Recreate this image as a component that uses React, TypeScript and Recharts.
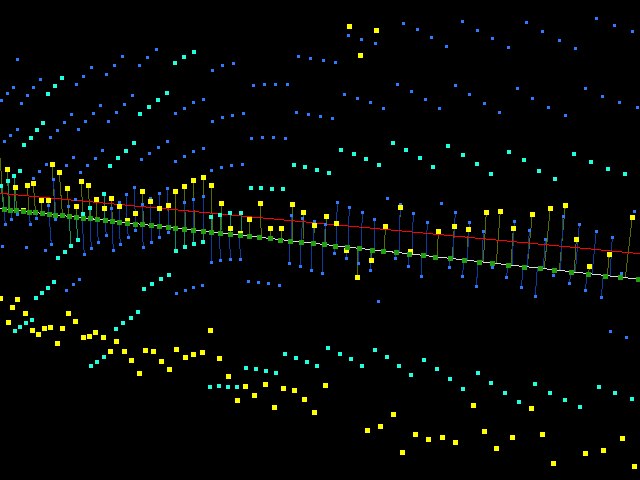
import React from 'react'
import { ComposedChart, Line, Scatter, XAxis, YAxis } from 'recharts'

// everything in screen units: [x, y] or [x, y, baseX, baseY]
const yellowStems = [
  [0, 158, 4, 209], [7.3, 169.3, 9, 209.7], [15.3, 187.3, 16.5, 210.5], [27.3, 185.3, 29, 211.9],
  [33.3, 183.3, 35.5, 212.6], [41.3, 200.3, 42, 213.3], [48.3, 200.3, 49, 214.1], [52.3, 164.3, 55, 214.8],
  [59.3, 172.3, 62.5, 215.6], [67.3, 188.3, 69, 216.3], [76.3, 206.3, 76, 217.1], [81.3, 181.3, 83, 217.9],
  [88.3, 185.3, 90, 218.6], [96.3, 199.3, 97, 219.4], [104.3, 208.3, 105, 220.3], [111.3, 198.3, 112.5, 221.1],
  [119.3, 206.3, 119.5, 221.9], [135.3, 213.3, 135, 223.6], [142.3, 191.3, 143.5, 224.5], [150.3, 201.3, 151, 225.4],
  [159.3, 208.3, 159.5, 226.3], [168.3, 205.3, 168.5, 227.3], [175.3, 191.3, 176, 228.1], [184.3, 186.3, 185.5, 229.2],
  [193.3, 180.3, 194.5, 230.2], [203.3, 177.3, 203.5, 231.1], [211.3, 185.3, 212.5, 232.1], [221.3, 203.3, 221, 233.1],
  [230.3, 228.3, 230.3, 234.1], [249.3, 219.3, 249.3, 236.2], [260.3, 203.3, 261.3, 237.5], [270.3, 228.3, 271, 238.6],
  [281.3, 228.3, 281, 239.7], [292.3, 204.3, 292.3, 240.9], [303.3, 212.3, 303, 242.1], [314.3, 225.3, 313.6, 243.3],
  [326.3, 216.3, 325, 244.5], [336.3, 223.3, 336, 245.8], [346.3, 250.3, 347, 247], [357.3, 277.3, 357.3, 248.1],
  [371.3, 260.3, 372, 249.7], [385.3, 226.3, 384.5, 251.1], [400.3, 207.3, 399, 252.7], [410.3, 251.3, 410, 253.9],
  [438.3, 231.3, 437.3, 256.9], [454.3, 226.3, 452.3, 258.6], [468.3, 229.3, 467, 260.2], [486.3, 212.3, 483.3, 262],
  [500.3, 211.3, 496.3, 263.4], [513.3, 228.3, 511, 265.1], [532.3, 214.3, 527.3, 266.9], [550.3, 208.3, 544.3, 268.7],
  [565.3, 205.3, 559.3, 270.4], [576.3, 239.3, 574.3, 272], [589.3, 266.3, 588.7, 273.6], [609.3, 254.3, 607.3, 275.7],
  [632.3, 217.3, 625.3, 277.7],
]

const blueStems = [
  [48.3, 205.3, 49, 214.1], [53.3, 179.3, 56, 214.9], [111.3, 208.3, 112, 221.1], [119.3, 202.3, 119, 221.8],
  [126.3, 194.3, 127, 222.7], [134.3, 187.3, 135.5, 223.6], [142.3, 204.3, 142, 224.4], [150.3, 198.3, 151, 225.4],
  [159.3, 193.3, 159.5, 226.3], [167.3, 188.3, 168.5, 227.3], [184.3, 202.3, 185, 229.1], [193.3, 199, 194, 230.1],
  [203.3, 196.3, 204, 231.2], [291.3, 215.3, 291.3, 240.8], [302.3, 218.3, 301.6, 242], [314.3, 221.3, 313, 243.2],
  [325.3, 224.3, 324, 244.4], [337.3, 202.3, 336, 245.8], [349.3, 207.3, 348, 247.1], [362.3, 212.3, 361.3, 248.6],
  [374.3, 219.3, 374.3, 250], [400.3, 204.3, 399, 252.7], [413.3, 213.3, 412, 254.1], [427.3, 222.3, 426, 255.7],
  [455.3, 212.3, 453, 258.7], [469.3, 222.3, 467.3, 260.2], [483.3, 231.3, 482.3, 261.9], [514.3, 221.3, 512, 265.2],
  [529.3, 230.3, 527.3, 266.9], [545.3, 239.3, 543.3, 268.6], [563, 216.3, 560.6, 270.5], [579.3, 224.3, 575.3, 272.2],
  [596.3, 231.3, 592, 274], [612.3, 237.3, 610, 276],
  [5.3, 224.3, 4, 209.1], [11.3, 219.3, 11, 209.9], [17.3, 214.3, 17, 210.6], [30.3, 224.3, 29, 211.9],
  [36.3, 218.3, 36, 212.7], [51.3, 244.3, 49, 214.1], [55.3, 219.3, 55, 214.8], [84.3, 254.3, 82, 217.7],
  [91.3, 248.3, 90, 218.6], [98.3, 242.3, 97, 219.4], [106.3, 235.3, 105, 220.3], [113.3, 250.3, 112, 221.1],
  [120.3, 244.3, 119, 221.8], [128.3, 237.3, 127, 222.7], [135.3, 230.3, 135, 223.6], [143.3, 247.3, 142, 224.4],
  [151.3, 242.3, 151, 225.4], [159.3, 237.3, 159, 226.2], [168.3, 232.3, 168, 227.2], [211.3, 262.3, 211, 232],
  [220.3, 260.3, 219.6, 232.9], [230.3, 259.3, 229.6, 234], [240.3, 259.3, 239.6, 235.1], [289.3, 263.3, 289.3, 240.6],
  [300.3, 266.3, 300.3, 241.8], [311.3, 270.3, 311.3, 243], [322.3, 273.3, 322.3, 244.2], [334.3, 253.3, 334.3, 245.6],
  [346.3, 258.3, 346.3, 246.9], [358.3, 263.3, 358.3, 248.2], [370.3, 270.3, 370.3, 249.5], [395.3, 258.3, 395.3, 252.3],
  [408.3, 266.3, 408.3, 253.7], [421.3, 276.3, 421.3, 255.2], [449.3, 267.3, 450, 258.3], [462.3, 276.3, 464.3, 259.9],
  [476.3, 286.3, 478.3, 261.5], [492.3, 267.3, 492.3, 263], [506.3, 277.3, 508.3, 264.8], [521.3, 287.3, 523.3, 266.4],
  [535.3, 296.3, 537.3, 268], [553.3, 275.3, 554.3, 269.8], [569.3, 283.3, 571.3, 271.7], [585.3, 290.3, 587.3, 273.5],
  [601.3, 297.3, 603.3, 275.2], [621.3, 273.3, 620, 277.1],
]

const cyanStems = [
  [1, 186, 4, 209.1], [8, 181, 10, 209.8], [14, 176, 15, 210.4], [78, 240, 76, 217.1], [71, 246, 69, 216.3],
  [83, 214, 83, 217.9], [90, 208, 90, 218.6], [104, 194, 105, 220.3], [176, 251, 175.5, 228.1], [185, 247, 184.5, 229],
  [194, 244, 193.5, 230], [203, 242, 203, 231.1], [211, 217, 211, 232], [220.3, 215, 220, 233], [230.3, 213.3, 230.3, 234.1],
  [241, 213, 241, 235.3],
]

const bluePoints = [
  [17.3, 59.3], [122.3, 56.3], [156.3, 49.3], [147.3, 57.3], [114.3, 65.3], [139.3, 65.3], [91.3, 67.3], [83.3, 76.3],
  [106.3, 74.3], [212.3, 70.3], [40.3, 79.3], [76.3, 84.3], [13.3, 87.3], [33.3, 87.3], [7.3, 93.3], [27.3, 95.3],
  [1.3, 100.3], [21.3, 103.3], [132.3, 95.3], [100.3, 105.3], [124.3, 104.3], [193.3, 102.3], [203.3, 99.3], [184.3, 108.3],
  [175.3, 113.3], [71.3, 114.3], [93.3, 113.3], [116.3, 112.3], [64.3, 122.3], [85.3, 121.3], [108.3, 121.3], [212.3, 121.3],
  [17.3, 129.3], [57.3, 130.3], [78.3, 129.3], [10.3, 135.3], [4.3, 141.3], [50.3, 137.3], [167.3, 141.3], [158.3, 147.3],
  [203.3, 148.3], [102.3, 150.3], [149.3, 153.3], [193.3, 151.3], [184.3, 156.3], [73.3, 157.3], [95.3, 158.3], [141.3, 159.3],
  [403.3, 23.3], [417.3, 29.3], [348.3, 35.3], [361.3, 39.3], [375.3, 43.3], [298.3, 56.3], [310.3, 58.3], [323.3, 60.3],
  [335.3, 62.3], [233.3, 63.3], [222.3, 65.3], [253.3, 85.3], [264.3, 84.3], [275.3, 84.3], [287.3, 84.3], [397.3, 84.3],
  [411.3, 91.3], [425.3, 99.3], [344.3, 94.3], [357.3, 98.3], [370.3, 102.3], [383.3, 108.3], [243.3, 113.3], [232.3, 115.3],
  [222.3, 117.3], [296.3, 112.3], [308.3, 114.3], [320.3, 116.3], [332.3, 118.3], [251.3, 138.3], [262.3, 137.3], [273.3, 137.3],
  [285.3, 138.3], [462.3, 21.3], [431.3, 37.3], [477.3, 30.3], [446.3, 46.3], [492.3, 38.3], [508.3, 47.3], [526.3, 22.3],
  [542.3, 31.3], [559.3, 40.3], [575.3, 48.3], [596.3, 18.3], [614.3, 25.3], [632.3, 31.3], [455.3, 85.3], [469.3, 94.3],
  [484.3, 103.3], [499.3, 112.3], [439.3, 108.3], [517.3, 88.3], [532.3, 98.3], [548.3, 107.3], [565.3, 115.3], [585.3, 88.3],
  [602.3, 96.3], [619.3, 102.3], [637.3, 107.3], [175.3, 161.3], [46.3, 164.3], [66.3, 165.3], [87.3, 165.3], [211.3, 170.3],
  [39.3, 171.3], [80.3, 172.3], [33.3, 178.3], [75.3, 199.3], [68.3, 206.3], [2.3, 246.3], [26.3, 247.3], [45.3, 250.3],
  [79.3, 279.3], [73.3, 284.3], [66.3, 290.3], [193.3, 287.3], [202.3, 285.3], [185.3, 290.3], [176.3, 293.3], [248.3, 281.3],
  [258.3, 282.3], [268.3, 283.3], [279.3, 285.3], [378.3, 301.3], [387.3, 198.3], [221.3, 167.3], [231.3, 165.3], [242.3, 164.3],
  [441.3, 203.3], [634.3, 211.3], [610.3, 331.3], [626.3, 337.3],
]

const cyanPoints = [
  [194, 52], [184, 57], [175, 63], [62, 78], [55, 86], [48, 94], [167, 93], [158, 100], [149, 107], [140, 114], [43, 123],
  [37, 130], [31, 138], [24, 145], [134, 143], [126, 151], [118, 158], [341, 150], [354, 154], [366, 159], [393, 143],
  [406, 150], [420, 158], [448, 146], [463, 155], [509, 152], [524, 160], [574, 154], [110, 166], [20, 171], [54, 282],
  [48, 288], [42, 293], [36, 298], [169, 275], [161, 279], [152, 284], [144, 289], [65, 252], [58, 258], [138, 312],
  [131, 318], [32, 320], [294, 165], [305, 167], [317, 170], [329, 173], [251, 188], [261, 188], [272, 189], [283, 189],
  [379, 165], [433, 167], [477, 164], [491, 174], [539, 171], [555, 179], [591, 162], [608, 169], [625, 174], [15, 331],
  [20, 327], [26, 323], [123, 323], [116, 329], [104, 357], [97, 362], [91, 366], [210, 387], [219, 386], [228, 387],
  [237, 387], [246, 368], [256, 369], [266, 371], [276, 373], [285, 354], [296, 358], [307, 362], [317, 366], [328, 348],
  [340, 354], [351, 359], [362, 366], [375, 350], [387, 357], [399, 366], [411, 375], [424, 360], [437, 369], [450, 379],
  [463, 389], [478, 373], [491, 383], [505, 393], [519, 402], [535, 384], [550, 393], [565, 400], [580, 407], [599, 387],
  [615, 393], [632, 399],
]

const yellowPoints = [
  [349.3, 26.3], [376.3, 30.3], [360.3, 55.3], [23.3, 210], [127.3, 220], [240.3, 233], [0, 298.3], [17.3, 299.3],
  [12.3, 307.3], [25.3, 313.3], [68.3, 313.3], [8.3, 322.3], [32.3, 330.3], [38.3, 334.3], [44.3, 328.3], [50.3, 327.3],
  [62.3, 328.3], [57.3, 343.3], [75.3, 321.3], [83.3, 337.3], [89.3, 336.3], [95.3, 332.3], [103.3, 337.3], [116.3, 341.3],
  [110.3, 351.3], [124.3, 351.3], [131.3, 360.3], [139.3, 373.3], [145.3, 350.3], [153.3, 351.3], [161.3, 361.3], [169.3, 369.3],
  [176.3, 349.3], [185.3, 357.3], [193.3, 354.3], [202.3, 352.3], [210.3, 330.3], [219.3, 358.3], [228.3, 376.3], [245.3, 386.3],
  [237.3, 400.3], [254.3, 395.3], [265.3, 384.3], [274.3, 407.3], [283.3, 388.3], [294.3, 390.3], [304.3, 399.3], [314.3, 412.3],
  [325.3, 385.3], [367.3, 430.3], [380.3, 426.3], [393.3, 414.3], [402.3, 452.3], [415.3, 434.3], [428.3, 439.3], [442.3, 437.3],
  [455.3, 442.3], [473.3, 405.3], [484.3, 431.3], [496.3, 448.3], [512.3, 437.3], [531.3, 408.3], [542.3, 434.3], [553.3, 463.3],
  [585.3, 453.3], [603.3, 450.3], [622.3, 438.3], [634.3, 466.3],
]

const axisSquares = [
  [4.3, 209.3], [10.3, 210.3], [16.3, 210.3], [23.3, 211.3], [29.3, 212.3], [35.3, 212.3], [42.3, 213.3], [49.3, 214.3],
  [55.3, 215.3], [62.3, 215.3], [69.3, 216.3], [76.3, 217.3], [83.3, 218.3], [90.3, 218.3], [97.3, 219.3], [105.3, 220.3],
  [112.3, 221.3], [119.3, 222.3], [127.3, 223.3], [135.3, 224.3], [142.3, 224.3], [151.3, 225.3], [159.3, 226.3], [168.3, 227.3],
  [175.3, 228.3], [184.3, 229.3], [193.3, 230.3], [203.3, 231.3], [211.3, 232.3], [220.3, 233.3], [230.3, 234.3], [240.3, 235.3],
  [249.3, 236.3], [259.3, 237.3], [270.3, 238.3], [280.3, 240.3], [290.3, 241.3], [301.3, 242.3], [313.3, 243.3], [324.3, 244.3],
  [335.3, 246.3], [347.3, 247.3], [359.3, 248.3], [372.3, 250.3], [383.3, 251.3], [396.3, 252.3], [409.3, 254.3], [423.3, 255.3],
  [435.3, 257.3], [450.3, 258.3], [464.3, 260.3], [479.3, 262.3], [492.3, 263.3], [508.3, 265.3], [524.3, 267.3], [540.3, 268.3],
  [554.3, 270.3], [571.3, 272.3], [588.3, 274.3], [605.3, 276.3], [620.3, 277.3], [638.3, 279.3],
]

const redLine = [[0, 193.3], [213, 213.3], [426, 233.3], [640, 253.7]]
const whiteLine = [[0, 208.7], [640, 279.3]]

const toPoints = (list: number[][]) => list.map(([x, y]) => ({ x, y }))

// one polyline per colour, broken by nulls between the stems
const toSegments = (list: number[][]) =>
  list.flatMap(([x, y, bx, by]) => [{ x, y }, { x: bx, y: by }, { x: bx, y: null }])

const square = (w: number, h: number, fill: string) => (props: any) => (
  <rect
    x={Math.round(props.cx - w / 2)}
    y={Math.round(props.cy - h / 2)}
    width={w}
    height={h}
    fill={fill}
  />
)

export default function App() {
  return (
    <div style={{ width: 640, height: 480, background: '#000' }}>
      <style>{'body{margin:0;background:#000}.recharts-line path{shape-rendering:crispEdges}'}</style>
      <ComposedChart width={640} height={480} margin={{ top: 0, right: 0, bottom: 0, left: 0 }}>
        <XAxis dataKey="x" type="number" domain={[0, 640]} hide allowDataOverflow />
        <YAxis dataKey="y" type="number" domain={[0, 480]} reversed hide allowDataOverflow />
        <Line data={toSegments(yellowStems)} dataKey="y" stroke="#556b00" dot={false} activeDot={false} isAnimationActive={false} />
        <Line data={toSegments(blueStems)} dataKey="y" stroke="#0b3a9a" dot={false} activeDot={false} isAnimationActive={false} />
        <Line data={toSegments(cyanStems)} dataKey="y" stroke="#0f8a6a" dot={false} activeDot={false} isAnimationActive={false} />
        <Scatter data={toPoints(bluePoints.concat(blueStems))} fill="#2f7bff" shape={square(3, 3, '#2f7bff')} isAnimationActive={false} />
        <Scatter data={toPoints(cyanPoints.concat(cyanStems))} fill="#22ffdd" shape={square(4, 4, '#22ffdd')} isAnimationActive={false} />
        <Line data={toPoints(redLine)} dataKey="y" stroke="#ff0000" dot={false} activeDot={false} isAnimationActive={false} />
        <Scatter data={toPoints(yellowPoints.concat(yellowStems.slice(1)))} fill="#ffff00" shape={square(5, 5, '#ffff00')} isAnimationActive={false} />
        <Line data={toPoints(whiteLine)} dataKey="y" stroke="#dddddd" dot={false} activeDot={false} isAnimationActive={false} />
        <Scatter data={toPoints(axisSquares)} fill="#22a010" shape={square(5, 5, '#22a010')} isAnimationActive={false} />
      </ComposedChart>
    </div>
  )
}
